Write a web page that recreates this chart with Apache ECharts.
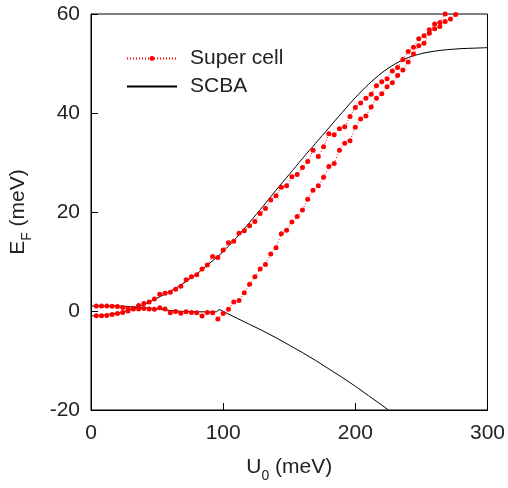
<!DOCTYPE html>
<html>
<head>
<meta charset="utf-8">
<script src="https://cdn.jsdelivr.net/npm/echarts@6/dist/echarts.min.js"></script>
<style>
  html, body { margin: 0; padding: 0; background: #fff; }
  #main { width: 508px; height: 488px; }
</style>
</head>
<body>
<div id="main"></div>
<script>
// super cell, branch starting near -1 (follows upper SCBA curve)
var superX1 = [4, 8, 12, 16, 20, 24, 28, 32, 36, 40, 44, 48, 52, 56, 60, 64, 68, 72, 76, 80,
  84, 88, 92, 96, 100, 104, 108, 112, 116, 120, 124, 128, 132, 136, 140, 144, 148, 152, 156, 160,
  164, 168, 172, 176, 180, 184, 188, 192, 196, 200, 204, 208, 212, 216, 220, 224, 228, 232, 236, 240,
  244, 248, 252, 256, 260, 264, 268];
var superY1 = [-0.95, -0.95, -0.9, -0.7, -0.5, -0.3, 0.0, 0.4, 1.1, 1.5, 1.8, 2.4, 3.4, 3.6, 3.8, 4.4, 5.0, 6.3, 6.9, 7.3,
  8.5, 9.3, 11.0, 10.8, 12.3, 13.8, 14.1, 15.7, 16.2, 17.2, 18.1, 19.7, 20.7, 22.4, 23.3, 25.0, 25.3, 27.1, 27.6, 29.0,
  30.2, 32.5, 31.2, 33.2, 35.8, 35.6, 36.8, 37.2, 39.3, 41.1, 42.0, 43.0, 43.8, 45.5, 46.3, 46.9, 48.5, 49.2, 50.8, 52.4,
  53.3, 55.0, 55.6, 56.8, 58.0, 58.3, 60.0];

// super cell, branch starting near +1 (flat, then rises after U0 ~ 100)
var superX2 = [4, 8, 12, 16, 20, 24, 28, 32, 36, 40, 44, 48, 52, 56, 60, 64, 68, 72, 76, 80,
  84, 88, 92, 96, 100, 104, 108, 112, 116, 120, 124, 128, 132, 136, 140, 144, 148, 152, 156, 160,
  164, 168, 172, 176, 180, 184, 188, 192, 196, 200, 204, 208, 212, 216, 220, 224, 228, 232, 236, 240,
  244, 248, 252, 256, 260, 264, 268, 272, 276];
var superY2 = [1.0, 1.0, 1.0, 0.95, 0.9, 0.7, 0.5, 0.5, 0.4, 0.5, 0.4, 0.35, 0.65, 0.4, -0.35, -0.1, -0.45, -0.15, -0.3, -0.35,
  -1.0, -0.3, -0.35, -1.6, -0.5, 0.35, 1.8, 2.1, 3.7, 5.4, 6.9, 8.5, 9.4, 11.5, 12.8, 15.6, 16.3, 18.0, 19.1, 20.4,
  22.6, 24.4, 25.3, 27.0, 29.2, 29.8, 32.5, 33.9, 34.4, 37.1, 38.8, 39.4, 41.2, 43.0, 43.9, 45.3, 46.1, 47.6, 48.7, 50.3,
  51.9, 53.6, 54.1, 56.1, 57.0, 57.5, 58.5, 59.0, 59.9];

// SCBA curves
var scbaX1 = [0, 10, 20, 30, 40, 50, 60, 70, 80, 90, 100, 110, 120, 130, 140, 150, 160, 170, 180, 190,
  200, 210, 220, 230, 240, 250, 260, 270, 280, 290, 300];
var scbaY1 = [-1.0, -0.8, -0.4, 0.3, 1.3, 2.6, 4.0, 5.6, 7.5, 9.7, 12.0, 14.8, 17.9, 21.1, 24.4, 27.6, 30.8, 33.9, 37.0, 40.1,
  43.1, 45.8, 48.1, 49.9, 51.2, 52.0, 52.5, 52.8, 53.0, 53.1, 53.2];
var scbaX2 = [0, 10, 20, 30, 40, 50, 60, 70, 80, 90, 95, 97, 100, 110, 120, 130, 140, 150, 160, 170,
  180, 190, 200, 210, 220, 230];
var scbaY2 = [1.0, 1.0, 1.0, 0.9, 0.7, 0.45, 0.1, -0.1, -0.15, -0.2, -0.15, 0.3, -0.1, -1.4, -2.7, -4.0, -5.4, -6.9, -8.4, -10.0,
  -11.7, -13.4, -15.2, -17.1, -19.0, -21.0];

var xTicks = [0, 100, 200, 300];
var yTicks = [-20, 0, 20, 40, 60];

function pairs(xs, ys) {
  var out = [];
  for (var i = 0; i < xs.length; i++) out.push([xs[i], ys[i]]);
  return out;
}

var font = 'Liberation Sans, Arial, sans-serif';
var fs = 21;
var ink = '#222';
var red = '#ff0000';

function superSeries(xs, ys) {
  return {
    name: 'Super cell',
    type: 'line',
    data: pairs(xs, ys),
    symbol: 'circle',
    symbolSize: 5,
    itemStyle: { color: red },
    lineStyle: { color: red, width: 1, type: [1, 2] },
    z: 3
  };
}

function scbaSeries(xs, ys, smooth) {
  return {
    name: 'SCBA',
    type: 'line',
    data: pairs(xs, ys),
    symbol: 'none',
    smooth: smooth,
    itemStyle: { color: '#000' },
    lineStyle: { color: '#000', width: 1 },
    z: 2
  };
}

// axis title with a subscript
function titleRich() {
  return {
    a: { fontFamily: font, fontSize: fs, color: ink, lineHeight: 24, verticalAlign: 'bottom' },
    s: { fontFamily: font, fontSize: 14, color: ink, lineHeight: 24, verticalAlign: 'bottom', padding: [0, 0, -5, 0] }
  };
}

var myChart = echarts.init(document.getElementById('main'));
myChart.setOption({
  animation: false,
  backgroundColor: '#fff',
  textStyle: { fontFamily: font },
  grid: { left: 91, right: 20, top: 14, bottom: 78, show: true, borderColor: '#000', borderWidth: 1 },
  legend: {
    data: [
      { name: 'Super cell' },
      // plain line, no marker
      { name: 'SCBA', itemStyle: { opacity: 0, borderWidth: 0 } }
    ],
    orient: 'vertical',
    left: 121,
    top: 43,
    itemWidth: 50,
    itemHeight: 6,
    itemGap: 7,
    textStyle: { fontFamily: font, fontSize: fs, color: ink, lineHeight: 21, padding: [0, 0, 0, 8] }
  },
  xAxis: {
    type: 'value',
    min: xTicks[0],
    max: xTicks[xTicks.length - 1],
    interval: 100,
    name: '{a|U}{s|0}{a| (meV)}',
    nameLocation: 'middle',
    nameGap: 44,
    nameTextStyle: { rich: titleRich() },
    splitLine: { show: false },
    axisLine: { onZero: false, lineStyle: { color: '#000', width: 1 } },
    axisTick: { inside: true, length: 7, lineStyle: { color: '#000' } },
    axisLabel: { margin: 13, fontFamily: font, fontSize: fs, color: ink }
  },
  yAxis: {
    type: 'value',
    min: yTicks[0],
    max: yTicks[yTicks.length - 1],
    interval: 20,
    name: '{a|E}{s|F}{a| (meV)}',
    nameLocation: 'middle',
    nameGap: 62,
    nameTextStyle: { rich: titleRich() },
    splitLine: { show: false },
    axisLine: { show: true, onZero: false, lineStyle: { color: '#000', width: 1 } },
    axisTick: { show: true, inside: true, length: 7, lineStyle: { color: '#000' } },
    axisLabel: { margin: 11, fontFamily: font, fontSize: fs, color: ink }
  },
  series: [
    superSeries(superX1, superY1),
    superSeries(superX2, superY2),
    scbaSeries(scbaX1, scbaY1, 0.3),
    scbaSeries(scbaX2, scbaY2, false)
  ]
});
</script>
</body>
</html>
